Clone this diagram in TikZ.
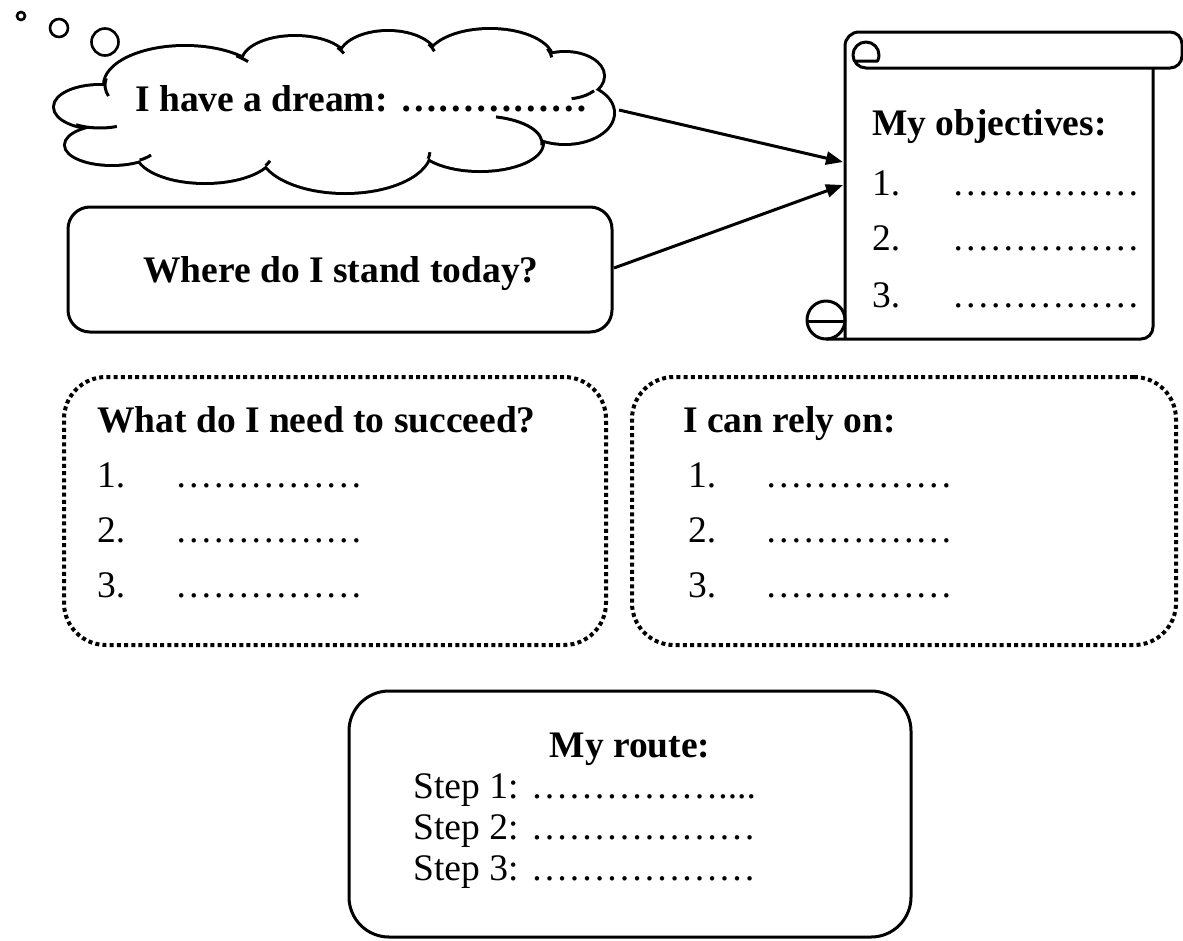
\documentclass[tikz,border=0pt]{standalone}
\usepackage{fontspec}
\setmainfont{Liberation Serif}
\usetikzlibrary{arrows.meta}
\tikzset{
  outline/.style={line width=3pt, line join=round},
  solidbox/.style={draw, line width=3pt, rounded corners=22pt, inner sep=0pt},
  routebox/.style={draw, line width=3pt, rounded corners=40pt, inner sep=0pt},
  dotbox/.style={draw, line width=4pt, dash pattern=on 4pt off 3.2pt, rounded corners=42pt, inner sep=0pt},
  txt/.style={anchor=base west, inner sep=0pt, font=\fontsize{37.5}{40}\selectfont},
  head/.style={anchor=base west, inner sep=0pt, font=\fontsize{37.5}{40}\selectfont\bfseries},
  conn/.style={line width=3pt, -{Triangle[length=17pt,width=13pt]}},
  bubble/.style={line width=2.6pt},
}
\newcommand{\blank}{……………}
\begin{document}
\begin{tikzpicture}[x=1pt,y=-1pt]
\useasboundingbox (0,0) rectangle (1183,940);

% ---- thought bubbles ----
\draw[bubble] (21,16) circle[radius=4];
\draw[bubble] (59,28) circle[radius=9];
\draw[bubble] (105,42) circle[radius=13.5];

% ---- cloud: union of puffs (wide stroke, then white fill) ----
\foreach \cx/\cy/\rx/\ry in {185/85/80/38, 295/62/52/25, 388/58/48/26, 490/60/62/30,
    565/76/38/23, 565/113/48/30, 480/143/62/27, 345/150/85/42, 205/152/68/30,
    112/145/46/19, 100/107/45/21}
  \draw[line width=6pt] (\cx,\cy) ellipse[x radius=\rx, y radius=\ry];
\foreach \cx/\cy/\rx/\ry in {185/85/80/38, 295/62/52/25, 388/58/48/26, 490/60/62/30,
    565/76/38/23, 565/113/48/30, 480/143/62/27, 345/150/85/42, 205/152/68/30,
    112/145/46/19, 100/107/45/21}
  \fill[white] (\cx,\cy) ellipse[x radius=\rx, y radius=\ry];
\fill[white] (185,85) -- (295,62) -- (388,58) -- (490,60) -- (565,76) -- (565,113)
  -- (480,143) -- (345,150) -- (205,152) -- (112,145) -- (100,107) -- cycle;
% inner curls of the puffs
\draw[outline] ([shift={(190:80 and 38)}]185,85) arc[start angle=190,end angle=163,x radius=80,y radius=38];
\draw[outline] ([shift={(-50:80 and 38)}]185,85) arc[start angle=-50,end angle=-38,x radius=80,y radius=38];
\draw[outline] ([shift={(-35:52 and 25)}]295,62) arc[start angle=-35,end angle=-20,x radius=52,y radius=25];
\draw[outline] ([shift={(-32:48 and 26)}]388,58) arc[start angle=-32,end angle=-15,x radius=48,y radius=26];
\draw[outline] ([shift={(-22:62 and 30)}]490,60) arc[start angle=-22,end angle=-5,x radius=62,y radius=30];
\draw[outline] ([shift={(40:38 and 23)}]565,76) arc[start angle=40,end angle=80,x radius=38,y radius=23];
\draw[outline] ([shift={(-75:62 and 27)}]480,143) arc[start angle=-75,end angle=5,x radius=62,y radius=27];
\draw[outline] ([shift={(12:85 and 42)}]345,150) arc[start angle=12,end angle=3,x radius=85,y radius=42];
\draw[outline] ([shift={(27:68 and 30)}]205,152) arc[start angle=27,end angle=17,x radius=68,y radius=30];
\draw[outline] ([shift={(53:46 and 19)}]112,145) arc[start angle=53,end angle=32,x radius=46,y radius=19];
\draw[outline] ([shift={(122:45 and 21)}]100,107) arc[start angle=122,end angle=68,x radius=45,y radius=21];
\node[head] (dream) at (135,111) {I have a dream: \blank};
\coordinate (cloudR) at (619,110);

% ---- where do I stand ----
\node[solidbox, minimum width=544pt, minimum height=125pt] (stand) at (340,269.5) {};
\node[head, anchor=base] (standtxt) at (341,282) {Where do I stand today?};
\coordinate (standR) at (614,268);

% ---- scroll with objectives ----
\draw[outline] (1153,68) -- (1153,327) arc[start angle=0,end angle=90,radius=12] -- (826,339);
\draw[outline] (845,339) -- (845,46) arc[start angle=180,end angle=270,radius=14]
  -- (1170,32) arc[start angle=-90,end angle=0,radius=12]
  -- (1182,56) arc[start angle=0,end angle=90,radius=12]
  -- (866,68) arc[start angle=90,end angle=387.5,radius=13] -- (854.5,61);
\draw[outline] (826,320) circle[radius=19];
\draw[outline] (807,321) -- (845,321);
\coordinate (objA) at (843,162);
\coordinate (objB) at (843,185);
\node[head] (obj) at (872,135) {My objectives:};
\node[txt] (obj1) at (872,195) {\makebox[80pt][l]{1.}\blank};
\node[txt] (obj2) at (872,250) {\makebox[80pt][l]{2.}\blank};
\node[txt] (obj3) at (872,307) {\makebox[80pt][l]{3.}\blank};

\draw[conn] (cloudR) -- (objA);
\draw[conn] (standR) -- (objB);

% ---- needs ----
\node[dotbox, minimum width=542pt, minimum height=268pt] (need) at (335,511) {};
\node[head] (needh) at (97,432) {What do I need to succeed?};
\node[txt] (need1) at (97,487) {\makebox[78pt][l]{1.}\blank};
\node[txt] (need2) at (97,542) {\makebox[78pt][l]{2.}\blank};
\node[txt] (need3) at (97,597) {\makebox[78pt][l]{3.}\blank};

% ---- support ----
\node[dotbox, minimum width=544pt, minimum height=268pt] (rely) at (904,511) {};
\node[head] (relyh) at (683,432) {I can rely on:};
\node[txt] (rely1) at (688,487) {\makebox[77pt][l]{1.}\blank};
\node[txt] (rely2) at (688,542) {\makebox[77pt][l]{2.}\blank};
\node[txt] (rely3) at (688,597) {\makebox[77pt][l]{3.}\blank};

% ---- route ----
\node[routebox, minimum width=562pt, minimum height=246pt] (route) at (630,814) {};
\node[head, anchor=base] (routeh) at (630,757) {My route:};
\node[txt] (step1) at (413,798) {Step 1: \blank....};
\node[txt] (step2) at (413,839) {Step 2: \blank…};
\node[txt] (step3) at (413,880) {Step 3: \blank…};
\end{tikzpicture}
\end{document}
